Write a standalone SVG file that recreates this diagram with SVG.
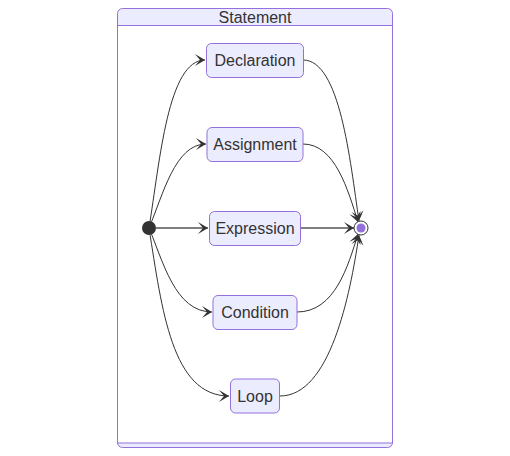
<svg xmlns="http://www.w3.org/2000/svg" width="510" height="456" viewBox="0 0 510 456">
<style>
.node rect{fill:#ECECFF;stroke:#9370DB;stroke-width:1}
text{font-family:"Liberation Sans",Arial,sans-serif;font-size:16px;fill:#333;text-anchor:middle;dominant-baseline:central}
.edge{fill:none;stroke:#333;stroke-width:1}
.straight{stroke-width:1.5;stroke:#555}
</style>
<defs>
<marker id="barb" markerUnits="userSpaceOnUse" viewBox="0 0 20 14" refX="19" refY="7" markerWidth="20" markerHeight="14" orient="auto">
<path d="M19,7 L9,13 L14,7 L9,1 Z" fill="#333"/>
</marker>
</defs>
<g id="Statement">
<rect x="117.5" y="8.5" width="275" height="439" rx="5" fill="#ECECFF" stroke="#9370DB"/>
<rect x="117.5" y="25.5" width="275" height="417.5" fill="#fff" stroke="#9370DB"/>
<text x="255" y="17">Statement</text>
</g>
<g id="connectors">
<path class="edge" d="M149,228 C160,160 168,60 205,60" marker-end="url(#barb)"/>
<path class="edge" d="M149,228 C163,195 175,144 206,144" marker-end="url(#barb)"/>
<path class="edge straight" d="M156,228 L208,228" marker-end="url(#barb)"/>
<path class="edge" d="M149,228 C163,261 175,312 212,312" marker-end="url(#barb)"/>
<path class="edge" d="M149,228 C162,310 172,396 229,396" marker-end="url(#barb)"/>
<path class="edge" d="M303,60 C340,60 350,160 359,221" marker-end="url(#barb)"/>
<path class="edge" d="M303,144 C335,144 348,190 358,222" marker-end="url(#barb)"/>
<path class="edge straight" d="M300,228 L354,228" marker-end="url(#barb)"/>
<path class="edge" d="M297,312 C335,312 348,266 358,234" marker-end="url(#barb)"/>
<path class="edge" d="M280,396 C330,396 350,296 359,235" marker-end="url(#barb)"/>
</g>
<g id="start"><circle cx="149" cy="228" r="7" fill="#333"/></g>
<g id="Declaration" class="node"><rect x="206.5" y="43.5" width="97" height="34" rx="5"/><text x="255" y="60.5">Declaration</text></g>
<g id="Assignment" class="node"><rect x="207" y="127.5" width="96" height="34" rx="5"/><text x="255" y="144.5">Assignment</text></g>
<g id="Expression" class="node"><rect x="209.5" y="211.5" width="91" height="34" rx="5"/><text x="255" y="228.5">Expression</text></g>
<g id="Condition" class="node"><rect x="213" y="295.5" width="84" height="34" rx="5"/><text x="255" y="312.5">Condition</text></g>
<g id="Loop" class="node"><rect x="230.5" y="379" width="49" height="34" rx="5"/><text x="255" y="396">Loop</text></g>
<g id="end"><circle cx="361" cy="228" r="7" fill="#fff" stroke="#333" stroke-width="1"/><circle cx="361" cy="228" r="4.5" fill="#9370DB"/></g>
</svg>
